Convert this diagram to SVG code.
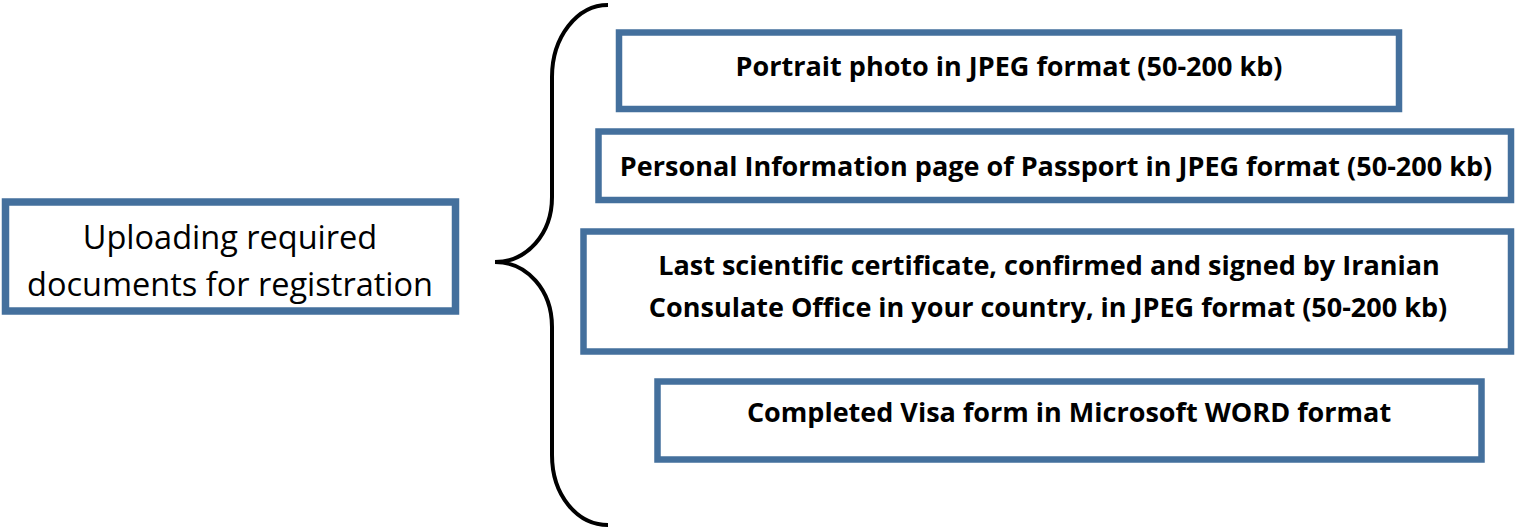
<svg xmlns="http://www.w3.org/2000/svg" width="1515" height="529" viewBox="0 0 1515 529">
<style>
.box{fill:#fff;stroke:#44709d;stroke-width:6.5}
.lt{font-family:"Open Sans","Liberation Sans",sans-serif;font-size:32.5px;fill:#000;text-anchor:middle}
.bt{font-family:"Open Sans","Liberation Sans",sans-serif;font-size:27px;font-weight:bold;fill:#000;text-anchor:middle}
.brace{fill:none;stroke:#000;stroke-width:4}
</style>
<rect width="1515" height="529" fill="#fff"/>
<g id="connectors">
<path class="brace" d="M608,5 C577,5 552,37 552,77 L552,197 C552,234 527,262 495,262 C527,262 552,290 552,327 L552,455 C552,495 577,525 608,525"/>
</g>
<g id="main">
<rect class="box" x="5.5" y="202" width="450" height="109" style="stroke-width:7.5"/>
<text class="lt" x="230" y="249">Uploading required</text>
<text class="lt" x="230" y="296">documents for registration</text>
</g>
<g id="photo">
<rect class="box" x="619" y="32.5" width="780" height="76.5"/>
<text class="bt" x="1009" y="76">Portrait photo in JPEG format (50-200 kb)</text>
</g>
<g id="passport">
<rect class="box" x="598.5" y="131.5" width="912.5" height="68.5"/>
<text class="bt" x="1056" y="176">Personal Information page of Passport in JPEG format (50-200 kb)</text>
</g>
<g id="certificate">
<rect class="box" x="583.5" y="231.5" width="927.5" height="120"/>
<text class="bt" x="1049" y="275">Last scientific certificate, confirmed and signed by Iranian</text>
<text class="bt" x="1048" y="317">Consulate Office in your country, in JPEG format (50-200 kb)</text>
</g>
<g id="visa">
<rect class="box" x="657.5" y="381.5" width="824" height="78"/>
<text class="bt" x="1069" y="422">Completed Visa form in Microsoft WORD format</text>
</g>
</svg>
